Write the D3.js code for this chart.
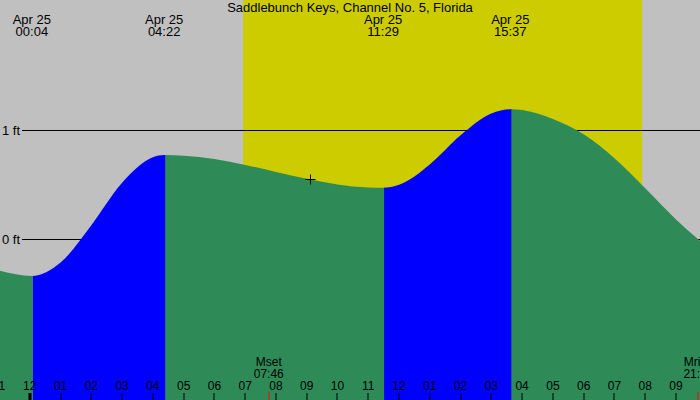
<!DOCTYPE html>
<html>
<head>
<meta charset="utf-8">
<script src="https://cdn.jsdelivr.net/npm/d3@7/dist/d3.min.js"></script>
<style>
  html, body { margin: 0; padding: 0; background: #c0c0c0; }
  svg { display: block; }
  text { font-family: "Liberation Sans", Arial, sans-serif; fill: #000; }
</style>
</head>
<body>
<svg id="chart" width="700" height="400"></svg>
<script>
// ---- data (hours measured from midnight Apr 25) ----
const title = "Saddlebunch Keys, Channel No. 5, Florida";

const tideHours = [-1, 0.067, 1, 2, 3, 4, 4.367, 5, 6, 7, 8, 9, 10, 11, 11.483, 12, 13, 14, 15, 15.617, 16, 17, 18, 19, 20, 21, 22];
const tideFeet  = [-0.29, -0.34, -0.216, 0.127, 0.516, 0.75, 0.77, 0.764, 0.733, 0.68, 0.615, 0.552, 0.501, 0.473, 0.47, 0.497, 0.684, 0.951, 1.151, 1.19, 1.183, 1.10, 0.96, 0.74, 0.465, 0.18, -0.07];

const extremeHours  = [0.067, 4.367, 11.483, 15.617];
const extremeDates  = ["Apr 25", "Apr 25", "Apr 25", "Apr 25"];
const extremeTimes  = ["00:04", "04:22", "11:29", "15:37"];
const extremeRising = [true, false, true, false]; // tide direction after each extreme

const sunHours = [6.93, 19.9];       // sunrise, sunset

const moonHours  = [7.767, 21.73];
const moonNames  = ["Mset", "Mrise"];
const moonTimes  = ["07:46", "21:44"];

const tickHours  = [-1, 0, 1, 2, 3, 4, 5, 6, 7, 8, 9, 10, 11, 12, 13, 14, 15, 16, 17, 18, 19, 20, 21];
const tickLabels = ["11", "12", "01", "02", "03", "04", "05", "06", "07", "08", "09", "10", "11",
                    "12", "01", "02", "03", "04", "05", "06", "07", "08", "09"];

const gridFeet   = [1, 0];
const gridLabels = ["1 ft", "0 ft"];

const markerHour = 9.1, markerFeet = 0.548;

// ---- scales ----
const W = 700, H = 400;
const x = d3.scaleLinear().domain([-0.9685, 21.781]).range([0, W]);
const y = d3.scaleLinear().domain([0, 1]).range([239, 130]);

const svg = d3.select("#chart");

// background
svg.append("rect").attr("x", 0).attr("y", 0).attr("width", W).attr("height", H).attr("fill", "#c0c0c0");

// daylight
svg.append("rect")
  .attr("x", x(sunHours[0])).attr("y", 0)
  .attr("width", x(sunHours[1]) - x(sunHours[0])).attr("height", H)
  .attr("fill", "#cccc00");

// grid lines
gridFeet.forEach((f, i) => {
  svg.append("line")
    .attr("x1", 22).attr("x2", W)
    .attr("y1", Math.round(y(f)) + 0.5).attr("y2", Math.round(y(f)) + 0.5)
    .attr("stroke", "#000").attr("stroke-width", 1);
  svg.append("text")
    .attr("x", 2).attr("y", y(f) + 4.5)
    .attr("font-size", 13)
    .text(gridLabels[i]);
});

// tide area
const tide = tideHours.map((t, i) => ({ t, h: tideFeet[i] }));
const area = d3.area()
  .x(d => x(d.t))
  .y0(H)
  .y1(d => y(d.h))
  .curve(d3.curveMonotoneX);

svg.append("clipPath").attr("id", "tideClip")
  .append("path").attr("d", area(tide));

const bounds = [x.domain()[0], ...extremeHours, x.domain()[1]];
const rising = [!extremeRising[0], ...extremeRising];
const g = svg.append("g").attr("clip-path", "url(#tideClip)");
for (let i = 0; i < bounds.length - 1; i++) {
  g.append("rect")
    .attr("x", x(bounds[i]) + (i > 0 ? 1 : 0))
    .attr("y", 0)
    .attr("width", x(bounds[i + 1]) - x(bounds[i]) + 1)
    .attr("height", H)
    .attr("fill", rising[i] ? "#0000ff" : "#2e8b57");
}

// marker
const mx = Math.round(x(markerHour)) + 0.5, my = Math.round(y(markerFeet)) + 0.5;
svg.append("line").attr("x1", mx - 5).attr("x2", mx + 5).attr("y1", my).attr("y2", my).attr("stroke", "#000");
svg.append("line").attr("x1", mx).attr("x2", mx).attr("y1", my - 5).attr("y2", my + 5).attr("stroke", "#000");

// title
svg.append("text").attr("x", W / 2).attr("y", 12).attr("text-anchor", "middle")
  .attr("font-size", 13).text(title);

// extreme labels
extremeHours.forEach((t, i) => {
  svg.append("text").attr("x", x(t)).attr("y", 24).attr("text-anchor", "middle")
    .attr("font-size", 13).text(extremeDates[i]);
  svg.append("text").attr("x", x(t)).attr("y", 36).attr("text-anchor", "middle")
    .attr("font-size", 13).text(extremeTimes[i]);
});

// hour ticks
tickHours.forEach((t, i) => {
  const tx = Math.round(x(t));
  svg.append("rect")
    .attr("x", t === 0 ? tx - 1.5 : tx - 0.5).attr("y", 393)
    .attr("width", t === 0 ? 3 : 1).attr("height", 7)
    .attr("fill", "#000");
  svg.append("text").attr("x", x(t)).attr("y", 389.5).attr("text-anchor", "middle")
    .attr("font-size", 12).text(tickLabels[i]);
});

// moon events
moonHours.forEach((t, i) => {
  const tx = Math.round(x(t));
  svg.append("rect").attr("x", tx - 0.5).attr("y", 392).attr("width", 1).attr("height", 8).attr("fill", "#ff0000");
  svg.append("text").attr("x", x(t)).attr("y", 365.5).attr("text-anchor", "middle")
    .attr("font-size", 12).text(moonNames[i]);
  svg.append("text").attr("x", x(t)).attr("y", 377.5).attr("text-anchor", "middle")
    .attr("font-size", 12).text(moonTimes[i]);
});
</script>
</body>
</html>
